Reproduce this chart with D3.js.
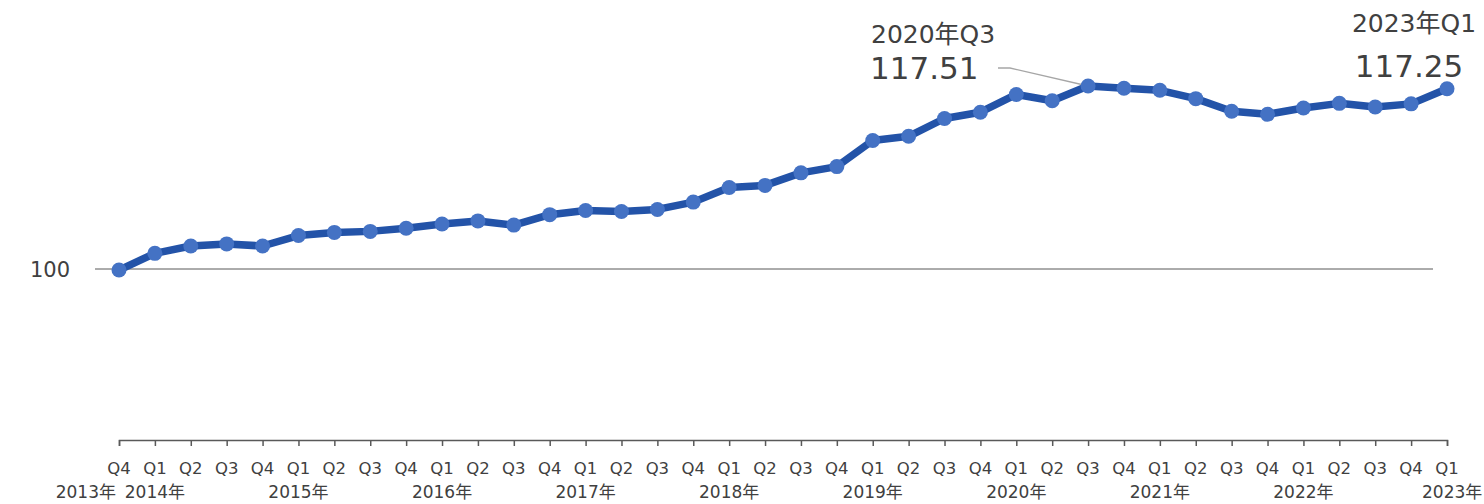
<html lang="ja">
<head>
<meta charset="utf-8">
<title>index</title>
<script src="https://d3js.org/d3.v7.min.js"></script>
<style>
  body { margin: 0; background: #fff; }
  text { font-family: "DejaVu Sans", "Noto Sans CJK JP", sans-serif; fill: #404040; }
</style>
</head>
<body>
<script>
// quarter labels, Q4 2013 .. Q1 2023
var quarters = ["Q4","Q1","Q2","Q3","Q4","Q1","Q2","Q3","Q4","Q1","Q2","Q3","Q4",
                "Q1","Q2","Q3","Q4","Q1","Q2","Q3","Q4","Q1","Q2","Q3","Q4",
                "Q1","Q2","Q3","Q4","Q1","Q2","Q3","Q4","Q1","Q2","Q3","Q4","Q1"];
// year label shown under the given index
var years = [
  {i: 0, t: "2013年"}, {i: 1, t: "2014年"}, {i: 5, t: "2015年"}, {i: 9, t: "2016年"},
  {i: 13, t: "2017年"}, {i: 17, t: "2018年"}, {i: 21, t: "2019年"}, {i: 25, t: "2020年"},
  {i: 29, t: "2021年"}, {i: 33, t: "2022年"}, {i: 37, t: "2023年"}
];
var values = [99.9, 101.5, 102.2, 102.4, 102.2, 103.2, 103.5, 103.6, 103.9, 104.3, 104.6, 104.2,
              105.2, 105.6, 105.5, 105.7, 106.4, 107.8, 108.0, 109.2, 109.8, 112.3, 112.7, 114.4,
              115.0, 116.7, 116.1, 117.51, 117.3, 117.1, 116.3, 115.1, 114.8, 115.4, 115.85,
              115.5, 115.8, 117.25];
var baseValue = 100;
var callouts = [
  {i: 27, label: "2020年Q3", value: "117.51"},
  {i: 37, label: "2023年Q1", value: "117.25"}
];

var width = 1484, height = 504;

var svg = d3.select("body").append("svg")
    .attr("width", width)
    .attr("height", height);

var x = d3.scaleLinear()
    .domain([0, quarters.length - 1])
    .range([119, 1447]);

var y = d3.scaleLinear()
    .domain([100, 117.51])
    .range([269, 86]);

var axisY = 440;

// base line at 100
svg.append("line")
    .attr("x1", 95).attr("x2", 1433)
    .attr("y1", y(baseValue)).attr("y2", y(baseValue))
    .attr("stroke", "#595959")
    .attr("stroke-width", 1);

svg.append("text")
    .attr("x", 70)
    .attr("y", y(baseValue) + 8)
    .attr("text-anchor", "end")
    .attr("font-size", "21px")
    .text("100");

// x axis
var axis = d3.axisBottom(x)
    .tickValues(d3.range(quarters.length))
    .tickSize(6)
    .tickSizeOuter(6)
    .tickFormat("");

var gx = svg.append("g")
    .attr("transform", "translate(0," + axisY + ")")
    .call(axis);
gx.select(".domain").attr("stroke", "#595959").attr("stroke-width", 1.5);
gx.selectAll(".tick line").attr("stroke", "#595959").attr("stroke-width", 1.5);

svg.append("g").selectAll("text")
    .data(quarters)
    .enter().append("text")
    .attr("x", function(d, i) { return x(i); })
    .attr("y", 474)
    .attr("text-anchor", "middle")
    .attr("font-size", "16.5px")
    .text(function(d) { return d; });

svg.append("g").selectAll("text")
    .data(years)
    .enter().append("text")
    .attr("x", function(d) {
        if (d.i === 0) return x(d.i) - 3;
        if (d.i === quarters.length - 1) return x(d.i) - 25;
        return x(d.i);
    })
    .attr("y", 498)
    .attr("text-anchor", function(d) {
        if (d.i === 0) return "end";
        if (d.i === quarters.length - 1) return "start";
        return "middle";
    })
    .attr("font-size", "17px")
    .text(function(d) { return d.t; });

// series line
var line = d3.line()
    .x(function(d, i) { return x(i); })
    .y(function(d) { return y(d); });

svg.append("path")
    .datum(values)
    .attr("fill", "none")
    .attr("stroke", "#2353a8")
    .attr("stroke-width", 7.5)
    .attr("stroke-linejoin", "round")
    .attr("d", line);

// leader line for the 2020 Q3 callout
var c0 = callouts[0];
svg.append("polyline")
    .attr("points", [[998, 68], [1010, 68], [x(c0.i), y(values[c0.i])]].join(" "))
    .attr("fill", "none")
    .attr("stroke", "#a6a6a6")
    .attr("stroke-width", 1.3);

svg.append("g").selectAll("circle")
    .data(values)
    .enter().append("circle")
    .attr("cx", function(d, i) { return x(i); })
    .attr("cy", function(d) { return y(d); })
    .attr("r", 7.5)
    .attr("fill", "#4472c4");

// callouts
svg.append("text").attr("x", 871).attr("y", 43)
    .attr("font-size", "25px").text(c0.label);
svg.append("text").attr("x", 870).attr("y", 79)
    .attr("font-size", "31px").text(c0.value);

var c1 = callouts[1];
svg.append("text").attr("x", 1414).attr("y", 32)
    .attr("text-anchor", "middle")
    .attr("font-size", "25px").text(c1.label);
svg.append("text").attr("x", 1409).attr("y", 77)
    .attr("text-anchor", "middle")
    .attr("font-size", "31px").text(c1.value);
</script>
</body>
</html>
